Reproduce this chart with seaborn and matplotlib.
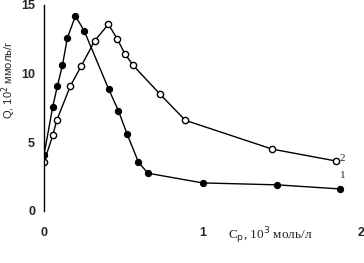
import matplotlib
matplotlib.use("Agg")
import matplotlib.pyplot as plt
import seaborn as sns
import pandas as pd

x1 = [0.0, 0.055, 0.084, 0.116, 0.147, 0.198, 0.254, 0.408, 0.469, 0.524, 0.595, 0.654, 1.0, 1.47, 1.87]
y1 = [4.1, 7.6, 9.1, 10.6, 12.6, 14.2, 13.1, 8.86, 7.3, 5.6, 3.57, 2.75, 2.04, 1.9, 1.6]
x2 = [0.0, 0.055, 0.08, 0.166, 0.235, 0.32, 0.406, 0.463, 0.509, 0.562, 0.732, 0.891, 1.44, 1.84]
y2 = [3.57, 5.5, 6.6, 9.1, 10.56, 12.4, 13.6, 12.5, 11.46, 10.6, 8.5, 6.6, 4.5, 3.64]
x_ticks = [0, 1, 2]
y_ticks = [0, 5, 10, 15]

sns.set_theme(style="white")
plt.rcParams['font.family'] = ['Liberation Sans', 'DejaVu Sans']

fig = plt.figure(figsize=(3.64, 2.63), dpi=100)
ax = fig.add_axes([0.121, 0.198, 0.871, 0.783])

df1 = pd.DataFrame({"x": x1, "y": y1})
df2 = pd.DataFrame({"x": x2, "y": y2})
sns.lineplot(data=df2, x="x", y="y", ax=ax, color="black", lw=1.0, marker="o",
             markersize=4.5, markerfacecolor="white", markeredgecolor="black",
             markeredgewidth=1.0, sort=False)
sns.lineplot(data=df1, x="x", y="y", ax=ax, color="black", lw=1.0, marker="o",
             markersize=4.5, markerfacecolor="black", markeredgecolor="black", sort=False)

ax.set_xlim(0, 2)
ax.set_ylim(0, 15)
ax.set_xticks(x_ticks)
ax.set_yticks(y_ticks)
ax.set_xticklabels([str(t) for t in x_ticks], fontsize=9, fontweight="bold")
ax.set_yticklabels([str(t) for t in y_ticks], fontsize=9, fontweight="bold")
for s in ["top", "right", "bottom"]:
    ax.spines[s].set_visible(False)
ax.spines["left"].set_color("black")
ax.spines["left"].set_linewidth(1.0)
ax.tick_params(axis="both", direction="out", length=2.5, width=1, color="black")
ax.tick_params(axis="y", pad=4)
ax.tick_params(axis="x", pad=9)
ax.set_xlabel("")
ax.set_ylabel("")
fig.text(8.5 / 364, 1 - 80 / 263, "Q, 10$^2$ ммоль/г", rotation=90, ha="center", va="center",
         fontsize=8)
fig.text(270 / 364, 1 - 236 / 263, "C$_\\mathrm{p}$, 10$^3$ моль/л", ha="center", va="center",
         fontsize=9.5, family=["Liberation Serif", "DejaVu Serif"])
ax.text(1.865, 3.85, "2", fontsize=8, ha="left", va="center", family=["Liberation Serif"])
ax.text(1.865, 2.55, "1", fontsize=8, ha="left", va="center", family=["Liberation Serif"])
fig.savefig("out.png", dpi=100)
